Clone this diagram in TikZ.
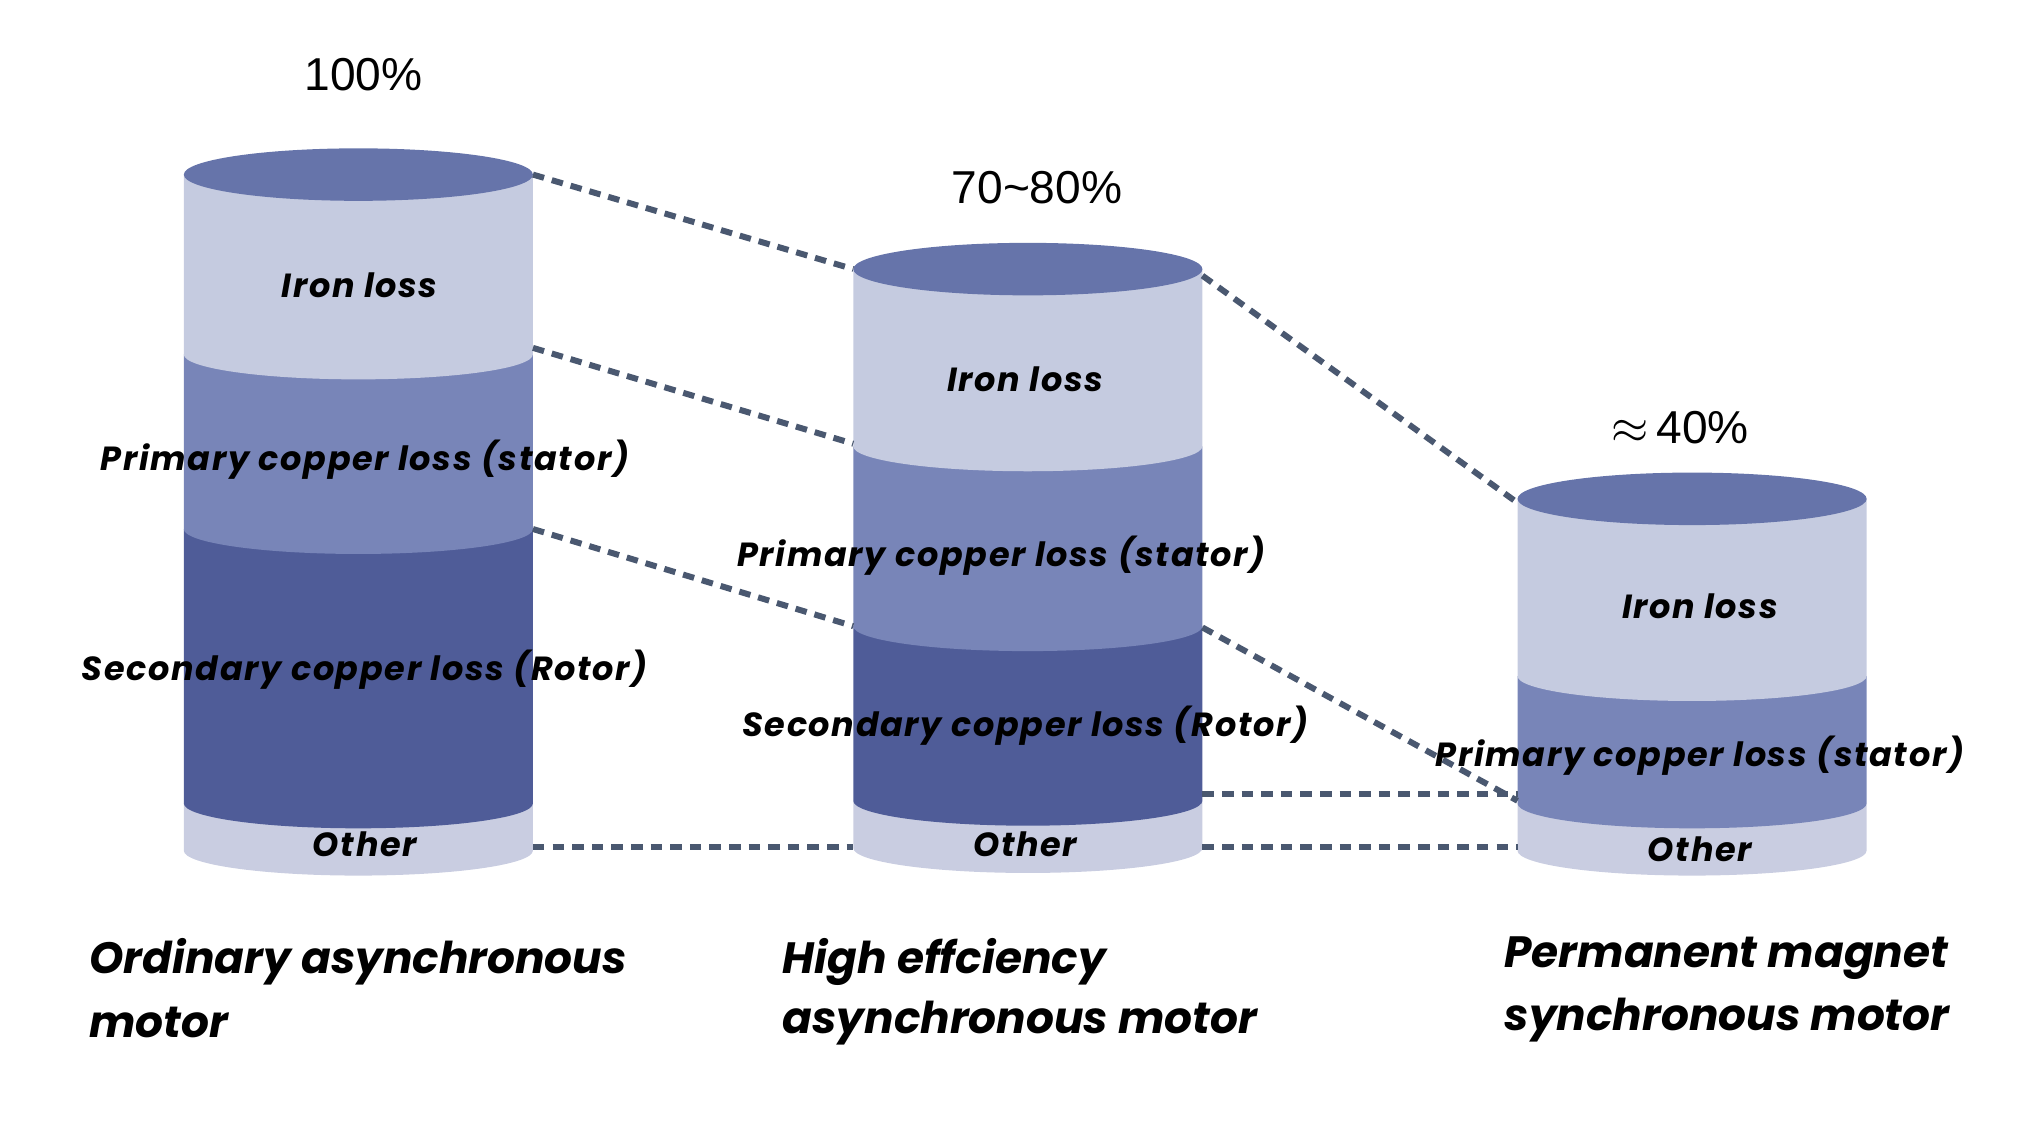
\documentclass[tikz,border=0pt]{standalone}
\usepackage{fontspec}
\setmainfont{Poppins}
\newfontfamily\lblfont{Poppins}[LetterSpace=5]
\newfontfamily\pctfont{Liberation Sans}
\definecolor{capc}{HTML}{6674AA}
\definecolor{lightc}{HTML}{C5CBE0}
\definecolor{midc}{HTML}{7885B8}
\definecolor{darkc}{HTML}{4F5C98}
\definecolor{otherc}{HTML}{C9CDE1}
\definecolor{linkc}{HTML}{4A5870}
% band: x0, ytop, ybot, colour (width 268px)
\newcommand\band[4]{%
  \fill[#4] (#1,#2) -- (#1,#3) arc[start angle=180,end angle=360,x radius=2.66cm,y radius=0.38cm] -- (#1+266,#2) -- cycle;}
\newcommand\cyltop[2]{%
  \fill[capc] (#1+133,#2) ellipse[x radius=2.66cm,y radius=0.4cm];}
\tikzset{
  lbl/.style={font=\fontsize{14.5}{17}\selectfont\lblfont\bfseries\itshape},
  ttl/.style={font=\fontsize{19}{23}\selectfont\bfseries\itshape,anchor=west},
  pct/.style={font=\fontsize{20}{24}\selectfont\pctfont},
  link/.style={linkc,line width=2.6pt,dash pattern=on 5pt off 3.5pt},
}
\begin{document}
\begin{tikzpicture}[x=0.02cm,y=-0.02cm]
  \useasboundingbox (0,0) rectangle (1551,858);

  % ordinary asynchronous motor
  \band{140}{612}{648}{otherc}
  \band{140}{403}{612}{darkc}
  \band{140}{270}{403}{midc}
  \band{140}{133}{270}{lightc}
  \cyltop{140}{133}

  % high efficiency asynchronous motor
  \band{650}{610}{646}{otherc}
  \band{650}{477}{610}{darkc}
  \band{650}{340}{477}{midc}
  \band{650}{205}{340}{lightc}
  \cyltop{650}{205}

  % permanent magnet synchronous motor
  \band{1156}{612}{648}{otherc}
  \band{1156}{515}{612}{midc}
  \band{1156}{380}{515}{lightc}
  \cyltop{1156}{380}

  \coordinate (a1) at (406,133);
  \coordinate (a2) at (406,265);
  \coordinate (a3) at (406,403);
  \coordinate (a4) at (406,645);
  \coordinate (b1) at (650,205);
  \coordinate (b2) at (650,338);
  \coordinate (b3) at (650,477);
  \coordinate (b4) at (650,645);
  \coordinate (b5) at (916,210);
  \coordinate (b6) at (916,478);
  \coordinate (b7) at (916,605);
  \coordinate (b8) at (916,645);
  \coordinate (c1) at (1156,383);
  \coordinate (c2) at (1156,610);
  \coordinate (c3) at (1156,605);
  \coordinate (c4) at (1156,645);

  \draw[link] (a1)--(b1);
  \draw[link] (a2)--(b2);
  \draw[link] (a3)--(b3);
  \draw[link] (a4)--(b4);
  \draw[link] (b5)--(c1);
  \draw[link] (b6)--(c2);
  \draw[link] (b7)--(c3);
  \draw[link] (b8)--(c4);

  \node[pct] (pa) at (277,57) {100\%};
  \node[pct] (pb) at (790,143) {70\char`\~80\%};
  \node[pct] (pc) at (1280,326) {$\approx$\,40\%};

  \node[lbl] (ia) at (274,217) {Iron loss};
  \node[lbl] (sa) at (278,350) {Primary copper loss (stator)};
  \node[lbl] (ra) at (278,510) {Secondary copper loss (Rotor)};
  \node[lbl] (oa) at (278,643) {Other};

  \node[lbl] (ib) at (781,289) {Iron loss};
  \node[lbl] (sb) at (763,423) {Primary copper loss (stator)};
  \node[lbl] (rb) at (781,553) {Secondary copper loss (Rotor)};
  \node[lbl] (ob) at (781,643) {Other};

  \node[lbl] (ic) at (1295,462) {Iron loss};
  \node[lbl] (sc) at (1295,576) {Primary copper loss (stator)};
  \node[lbl] (oc) at (1295,647) {Other};

  \node[ttl] (ta) at (62,733) {Ordinary asynchronous};
  \node[ttl] (ta2) at (62,779) {motor};
  \node[ttl] (tb) at (590,733) {High effciency};
  \node[ttl] (tb2) at (590,779) {asynchronous motor};
  \node[ttl] (tc) at (1140,730) {Permanent magnet};
  \node[ttl] (tc2) at (1140,777) {synchronous motor};
\end{tikzpicture}
\end{document}
